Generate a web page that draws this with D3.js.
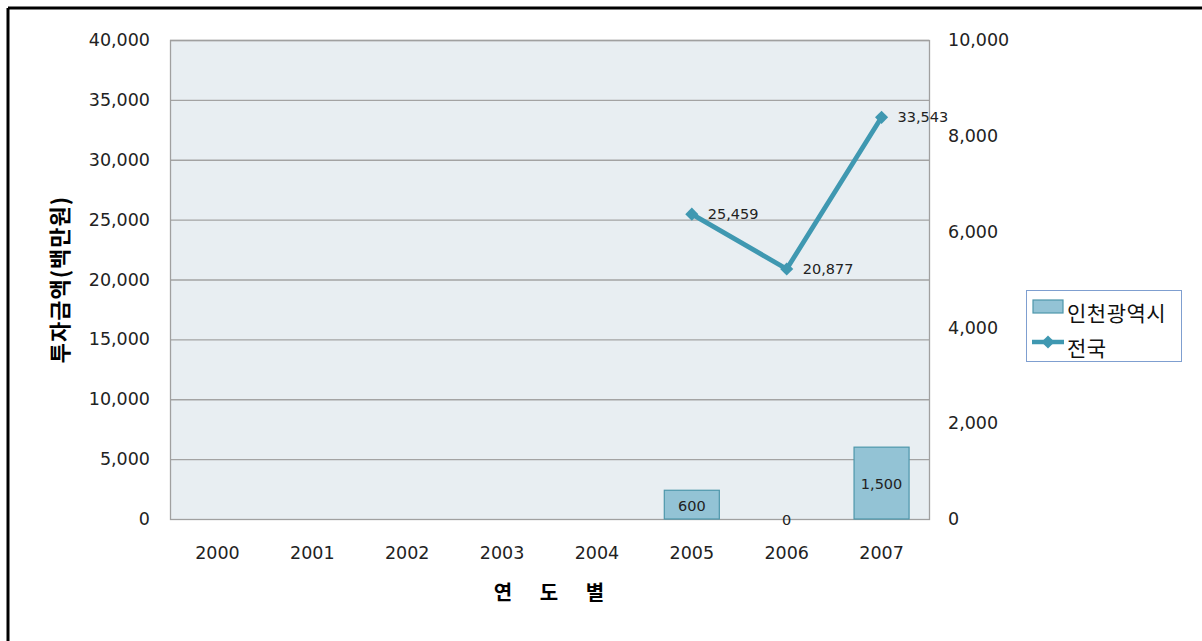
<!DOCTYPE html>
<html>
<head>
<meta charset="utf-8">
<script src="https://cdn.jsdelivr.net/npm/d3@7"></script>
<style>
  body { margin: 0; background: #fff; }
  svg { display: block; font-family: "DejaVu Sans", "Noto Sans CJK KR", sans-serif; }
</style>
</head>
<body>
<div id="chart"></div>
<script>

// Chart data.
const years = ["2000", "2001", "2002", "2003", "2004", "2005", "2006", "2007"];
const incheonValues = [null, null, null, null, null, 600, 0, 1500];        // bars, right axis
const nationalValues = [null, null, null, null, null, 25459, 20877, 33543]; // line, left axis
const leftTicks = [0, 5000, 10000, 15000, 20000, 25000, 30000, 35000, 40000];
const rightTicks = [0, 2000, 4000, 6000, 8000, 10000];
const seriesNames = ["인천광역시", "전국"];

const width = 1202, height = 641;
const margin = {top: 40, right: 273, bottom: 122, left: 170};
const plotW = width - margin.left - margin.right;
const plotH = height - margin.top - margin.bottom;

const lineColor = "#3f98b1";
const barFill = "#93c3d5";
const barStroke = "#4d97ab";

const svg = d3.select("#chart")
    .append("svg")
        .attr("width", width)
        .attr("height", height);

// Outer frame (only top and left edges are visible)
svg.append("line")
    .attr("x1", 8).attr("x2", width).attr("y1", 8).attr("y2", 8)
    .attr("stroke", "#000").attr("stroke-width", 3);
svg.append("line")
    .attr("x1", 8).attr("x2", 8).attr("y1", 8).attr("y2", height)
    .attr("stroke", "#000").attr("stroke-width", 3);

const g = svg.append("g")
    .attr("transform", "translate(" + margin.left + "," + margin.top + ")");

// Scales
const x = d3.scaleBand().domain(years).range([0, plotW]);
const yLeft = d3.scaleLinear().domain([0, 40000]).range([plotH, 0]);
const yRight = d3.scaleLinear().domain([0, 10000]).range([plotH, 0]);
const fmt = d3.format(",");

// Plot background
g.append("rect")
    .attr("width", plotW).attr("height", plotH)
    .attr("fill", "#e8eef2");

// Gridlines
g.selectAll("line.grid")
    .data(leftTicks.slice(1))
    .enter()
  .append("line")
    .attr("class", "grid")
    .attr("x1", 0).attr("x2", plotW)
    .attr("y1", d => yLeft(d) + 0.5).attr("y2", d => yLeft(d) + 0.5)
    .attr("stroke", "#a3a3a3").attr("stroke-width", 1.3);

// Plot border
g.append("rect")
    .attr("x", 0.5).attr("y", 0.5)
    .attr("width", plotW).attr("height", plotH)
    .attr("fill", "none")
    .attr("stroke", "#a0a0a0").attr("stroke-width", 1.3);

// Left axis
const leftAxis = d3.axisLeft(yLeft).tickValues(leftTicks).tickFormat(fmt).tickSize(0).tickPadding(20);
const gl = g.append("g").call(leftAxis);
gl.select(".domain").remove();
gl.selectAll("text").attr("font-size", 17.5).attr("fill", "#222")
    .attr("font-family", "DejaVu Sans");

// Right axis
const rightAxis = d3.axisRight(yRight).tickValues(rightTicks).tickFormat(fmt).tickSize(0).tickPadding(19);
const gr = g.append("g").attr("transform", "translate(" + plotW + ",0)").call(rightAxis);
gr.select(".domain").remove();
gr.selectAll("text").attr("font-size", 17.5).attr("fill", "#222")
    .attr("font-family", "DejaVu Sans");

// Bottom axis
const bottomAxis = d3.axisBottom(x).tickSize(0).tickPadding(28);
const gb = g.append("g").attr("transform", "translate(0," + plotH + ")").call(bottomAxis);
gb.select(".domain").remove();
gb.selectAll("text").attr("font-size", 17.5).attr("fill", "#222")
    .attr("font-family", "DejaVu Sans");

// Bars (인천광역시, right axis)
const barW = x.bandwidth() * 0.58;
const barData = years.map((yr, i) => ({year: yr, value: incheonValues[i]})).filter(d => d.value !== null);

g.selectAll("rect.bar")
    .data(barData.filter(d => d.value > 0))
    .enter()
  .append("rect")
    .attr("class", "bar")
    .attr("x", d => x(d.year) + (x.bandwidth() - barW) / 2)
    .attr("y", d => yRight(d.value))
    .attr("width", barW)
    .attr("height", d => yRight(0) - yRight(d.value))
    .attr("fill", barFill)
    .attr("stroke", barStroke).attr("stroke-width", 1.2);

g.selectAll("text.barlabel")
    .data(barData)
    .enter()
  .append("text")
    .attr("class", "barlabel")
    .attr("x", d => x(d.year) + x.bandwidth() / 2)
    .attr("y", d => (yRight(d.value) + yRight(0)) / 2 + 1)
    .attr("dy", "0.35em")
    .attr("text-anchor", "middle")
    .attr("font-size", 14.5)
    .attr("fill", "#222")
    .text(d => fmt(d.value));

// Line (전국, left axis)
const lineData = years.map((yr, i) => ({year: yr, value: nationalValues[i]})).filter(d => d.value !== null);
const cx = d => x(d.year) + x.bandwidth() / 2;

const valueline = d3.line()
    .x(cx)
    .y(d => yLeft(d.value));

g.append("path")
    .attr("d", valueline(lineData))
    .attr("fill", "none")
    .attr("stroke", lineColor)
    .attr("stroke-width", 4.8)
    .attr("stroke-linejoin", "round");

const diamond = d3.symbol().type(d3.symbolDiamond2).size(110);
g.selectAll("path.marker")
    .data(lineData)
    .enter()
  .append("path")
    .attr("class", "marker")
    .attr("d", diamond)
    .attr("transform", d => "translate(" + cx(d) + "," + yLeft(d.value) + ")")
    .attr("fill", lineColor);

g.selectAll("text.linelabel")
    .data(lineData)
    .enter()
  .append("text")
    .attr("class", "linelabel")
    .attr("x", d => cx(d) + 16)
    .attr("y", d => yLeft(d.value))
    .attr("dy", "0.35em")
    .attr("font-size", 14.5)
    .attr("fill", "#222")
    .text(d => fmt(d.value));

// Axis titles
svg.append("text")
    .attr("transform", "translate(68," + (margin.top + plotH / 2) + ") rotate(-90)")
    .attr("text-anchor", "middle")
    .attr("font-family", "Noto Sans CJK KR")
    .attr("font-weight", "bold")
    .attr("font-size", 22)
    .attr("letter-spacing", 1)
    .attr("fill", "#000")
    .text("투자금액(백만원)");

const xTitle = svg.append("text")
    .attr("x", 549).attr("y", 600)
    .attr("text-anchor", "middle")
    .attr("font-family", "Noto Sans CJK KR")
    .attr("font-weight", "bold")
    .attr("font-size", 20)
    .attr("fill", "#000");
["연", "도", "별"].forEach((ch, i) => {
    xTitle.append("tspan").attr("x", 549 + (i - 1) * 46).text(ch);
});

// Legend
const legend = svg.append("g").attr("transform", "translate(1026,290)");
legend.append("rect")
    .attr("x", 0.5).attr("y", 0.5)
    .attr("width", 155).attr("height", 71)
    .attr("fill", "#fff")
    .attr("stroke", "#7f9fd0").attr("stroke-width", 1);

legend.append("rect")
    .attr("x", 7).attr("y", 10)
    .attr("width", 30).attr("height", 13)
    .attr("fill", barFill)
    .attr("stroke", barStroke).attr("stroke-width", 1.2);
legend.append("line")
    .attr("x1", 6).attr("x2", 38).attr("y1", 52).attr("y2", 52)
    .attr("stroke", lineColor).attr("stroke-width", 4.5);
legend.append("path")
    .attr("d", diamond)
    .attr("transform", "translate(22,52)")
    .attr("fill", lineColor);

legend.selectAll("text")
    .data(seriesNames)
    .enter()
  .append("text")
    .attr("x", 41)
    .attr("y", (d, i) => 24 + i * 35)
    .attr("dy", "0.35em")
    .attr("font-family", "Noto Sans CJK KR")
    .attr("font-size", 21)
    .attr("letter-spacing", 0.5)
    .attr("fill", "#111")
    .text(d => d);

</script>
</body>
</html>
